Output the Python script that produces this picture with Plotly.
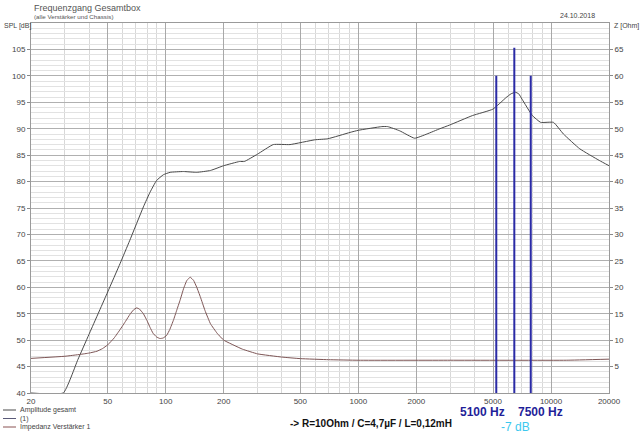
import plotly.graph_objects as go

# ---- data ----
spl_freq = [20, 29.4, 35, 40, 50, 58, 65, 76.6, 83, 89.7, 97.4, 105.5, 123.6, 145, 170.8,
            200, 242, 256, 300, 362, 442, 594, 694, 906, 1000, 1324, 1420, 1640, 1960,
            2270, 2650, 2980, 3920, 4990, 5850, 6200, 6530, 6800, 7070, 8000, 8840,
            10300, 11600, 14100, 17800, 20000]
spl_db = [40, 40, 46.3, 51.1, 59.1, 64.5, 68.8, 75.2, 78.0, 80.2, 81.3, 81.75, 81.9, 81.75, 82.1,
          83.0, 83.8, 83.8, 85.2, 87.0, 87.0, 87.9, 88.1, 89.3, 89.7, 90.4, 90.4, 89.6, 88.2,
          89.0, 90.0, 90.7, 92.5, 93.7, 95.9, 96.6, 96.9, 96.6, 95.6, 92.5, 91.2,
          91.2, 89.0, 86.2, 84.0, 83.0]

imp_freq = [20, 30, 36, 40, 44, 47, 50, 54, 58, 62, 65.3, 68, 70.6, 73, 76.6, 80, 83, 86,
            89.7, 93.4, 97, 101.2, 105, 109.8, 114, 118.9, 124, 128.8, 134.1, 139.6, 145,
            151.3, 160, 170.8, 185, 200, 250, 300, 400, 500, 700, 1000,
            3000, 12000, 20000]
imp_db = [46.55, 46.95, 47.3, 47.55, 47.9, 48.4, 49.1, 50.4, 52.0, 53.6, 54.9, 55.7, 56.1, 55.9,
          55.0, 53.7, 52.4, 51.3, 50.6, 50.3, 50.4, 50.9, 52.0, 53.8, 55.6, 57.6, 59.8, 61.3,
          61.9, 61.3, 60.0, 58.2, 55.6, 53.1, 51.3, 50.0, 48.3, 47.4, 46.8, 46.5, 46.3, 46.2,
          46.2, 46.2, 46.4]

marker_freqs = [5200, 6450, 7850]
marker_tops = [100, 105.3, 100]

x_major = [20, 50, 100, 200, 500, 1000, 2000, 5000, 10000, 20000]
x_minor = [30, 40, 60, 70, 80, 90, 300, 400, 600, 700, 800, 900,
           3000, 4000, 6000, 7000, 8000, 9000]
spl_ticks = list(range(40, 110, 5))
z_ticks = list(range(5, 70, 5))

legend_names = ["Amplitude gesamt", "(1)", "Impedanz Verstärker 1"]
legend_colors = ["#4a4a4a", "#5a5a78", "#8a5252"]

FONT = "Liberation Sans, Arial, sans-serif"

fig = go.Figure()

fig.add_trace(go.Scatter(x=spl_freq, y=spl_db, mode="lines", line=dict(color="#4a4a4a", width=1,
                         shape="spline", smoothing=0.4), showlegend=False, hoverinfo="skip"))
fig.add_trace(go.Scatter(x=imp_freq, y=imp_db, mode="lines", line=dict(color="#7d5555", width=1,
                         shape="spline", smoothing=0.3), showlegend=False, hoverinfo="skip"))
for f, top in zip(marker_freqs, marker_tops):
    fig.add_trace(go.Scatter(x=[f, f], y=[40, top], mode="lines",
                             line=dict(color="#2b2ba6", width=2), showlegend=False,
                             hoverinfo="skip"))
# right axis (impedance scale) anchor trace
fig.add_trace(go.Scatter(x=[20], y=[0], yaxis="y2", mode="markers", marker=dict(opacity=0),
                         showlegend=False, hoverinfo="skip"))

fig.update_layout(
    width=640, height=434,
    margin=dict(l=31, r=31, t=23, b=41),
    paper_bgcolor="white", plot_bgcolor="white",
    font=dict(family=FONT, size=8, color="#444"),
    xaxis=dict(type="log", range=[1.30103, 4.30103], tickvals=x_major,
               ticktext=[str(v) for v in x_major], showgrid=True, gridcolor="#a8a8a8",
               gridwidth=1, showline=True, mirror=True, linecolor="#9a9a9a",
               ticks="", tickfont=dict(size=8, color="#444"),
               minor=dict(tickvals=x_minor, showgrid=True, gridcolor="#d8d8d8"),
               zeroline=False),
    yaxis=dict(range=[40, 110], tickvals=spl_ticks, showgrid=True, gridcolor="#b0b0b0",
               showline=True, mirror=True, linecolor="#9a9a9a", ticks="outside",
               ticklen=3, tickcolor="#888", tickfont=dict(size=8, color="#444"),
               minor=dict(dtick=1, showgrid=True, gridcolor="#e2e2e2"), zeroline=False),
    yaxis2=dict(range=[0, 70], tickvals=z_ticks, overlaying="y", side="right",
                showgrid=False, ticks="outside", ticklen=3, tickcolor="#888",
                tickfont=dict(size=8, color="#444"), zeroline=False, showline=False),
    showlegend=False,
)


def px(x):
    return (x - 31) / 578


def py(y):
    return (393 - y) / 370


def txt(text, x, y, size, color, anchor="left", family=FONT):
    return dict(text=text, x=px(x), y=py(y), xref="paper", yref="paper",
                xanchor=anchor, yanchor="middle", showarrow=False,
                font=dict(family=family, size=size, color=color))


layout_ann = [
    txt("Frequenzgang Gesamtbox", 32, 8, 9, "#555"),
    txt("(alle Verstärker und Chassis)", 32, 17, 6.2, "#555"),
    txt("24.10.2018", 558, 15, 7, "#444"),
    txt("SPL [dB]", 2, 26, 7, "#444"),
    txt("Z [Ohm]", 612, 26, 7, "#444"),
]

legend_y = [410, 418.5, 427]
shapes = []
for name, col, ly in zip(legend_names, legend_colors, legend_y):
    shapes.append(dict(type="line", xref="paper", yref="paper", x0=px(3), x1=px(16),
                       y0=py(ly), y1=py(ly), line=dict(color=col, width=1)))
    layout_ann.append(txt(name, 18, ly, 7, "#444"))

layout_ann.append(txt("<b>-> R=10Ohm / C=4,7µF / L=0,12mH</b>", 288, 423, 10, "#111"))
layout_ann.append(txt("<b>5100 Hz</b>", 507, 412, 12, "#1f1f99", anchor="right"))
layout_ann.append(txt("<b>7500 Hz</b>", 516, 412, 12, "#1f1f99"))
layout_ann.append(txt("-7 dB", 515, 427, 12, "#3cc8ee", anchor="center"))

fig.update_layout(annotations=layout_ann, shapes=shapes)

fig.write_html("out.html")
